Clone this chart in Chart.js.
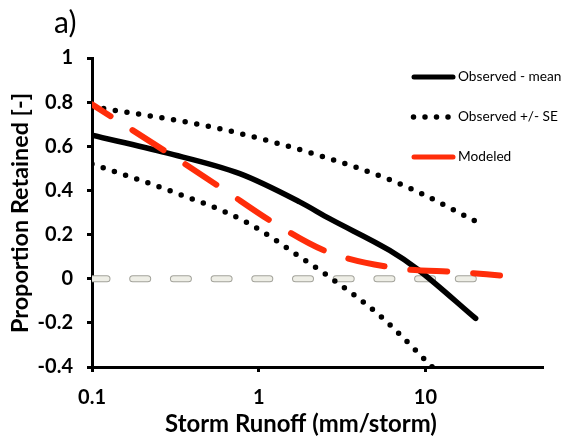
<!DOCTYPE html>
<html><head><meta charset="utf-8">
<script src="https://cdn.jsdelivr.net/npm/chart.js@4.4.1/dist/chart.umd.min.js"></script>
<style>html,body{margin:0;padding:0;background:#fff;}#wrap{width:566px;height:440px;position:relative;}</style>
</head><body><div id="wrap"><canvas id="c" width="566" height="440"></canvas></div>
<script>
// ---- data ----
const meanX  = [0.1, 0.28, 0.77, 1.76, 2.66, 6.1, 9.0, 20];
const meanY  = [0.65, 0.57, 0.476, 0.348, 0.272, 0.128, 0.042, -0.18];
const upperX = [0.1, 0.58, 2.41, 6.1, 9.5, 20];
const upperY = [0.78, 0.68, 0.554, 0.449, 0.385, 0.26];
const lowerX = [0.1, 0.29, 0.84, 1.9, 2.52, 5.3, 11];
const lowerY = [0.52, 0.40, 0.257, 0.083, 0.02, -0.166, -0.40];
const modelX = [0.1, 0.28, 0.6, 1.25, 2.6, 6.7, 16, 28];
const modelY = [0.79, 0.574, 0.41, 0.25, 0.121, 0.048, 0.03, 0.015];
const zeroX  = [0.1, 20];
const zeroY  = [0, 0];
const xTicks = [0.1, 1, 10];
const xTickLabels = ['0.1', '1', '10'];
const yTicks = [-0.4, -0.2, 0, 0.2, 0.4, 0.6, 0.8, 1];
const legendLabels = ['Observed - mean', 'Observed +/- SE', 'Modeled'];
const panelLabel = 'a)';
const xTitle = 'Storm Runoff (mm/storm)';
const yTitle = 'Proportion Retained [-]';

const pts = (xs, ys) => xs.map((x, i) => ({x: x, y: ys[i]}));
const RED = '#FF2D0A';
const FONT = 'Lato, "Open Sans", sans-serif';

const mctx = document.createElement('canvas').getContext('2d');
function fitSize(text, weight, width) {
  mctx.font = weight + ' 100px ' + FONT;
  return 100 * width / mctx.measureText(text).width;
}
const xTitleSize = fitSize(xTitle, 'bold', 272);
const yTitleSize = fitSize(yTitle, 'bold', 240);
const legendSize = fitSize(legendLabels[1], 'normal', 100);

const customText = {
  id: 'customText',
  afterDraw(chart) {
    const ctx = chart.ctx;
    ctx.save();
    ctx.fillStyle = '#000';
    ctx.font = '30px ' + FONT;
    ctx.textAlign = 'left'; ctx.textBaseline = 'alphabetic';
    ctx.fillText(panelLabel, 54, 33);
    ctx.font = 'bold ' + xTitleSize + 'px ' + FONT;
    ctx.textAlign = 'center'; ctx.textBaseline = 'middle';
    ctx.fillText(xTitle, 301, 424);
    ctx.save();
    ctx.translate(20, 213);
    ctx.rotate(-Math.PI / 2);
    ctx.font = 'bold ' + yTitleSize + 'px ' + FONT;
    ctx.fillText(yTitle, 0, 0);
    ctx.restore();
    // legend
    const ly = [77, 117, 157];
    const x0 = 412, x1 = 455;
    ctx.lineCap = 'round';
    ctx.strokeStyle = '#000'; ctx.lineWidth = 5;
    ctx.beginPath(); ctx.moveTo(x0 + 2, ly[0]); ctx.lineTo(x1 - 2, ly[0]); ctx.stroke();
    ctx.setLineDash([0, 11.5]);
    ctx.lineWidth = 5.5;
    ctx.beginPath(); ctx.moveTo(x0 + 1.5, ly[1]); ctx.lineTo(x1, ly[1]); ctx.stroke();
    ctx.setLineDash([]);
    ctx.strokeStyle = RED; ctx.lineWidth = 5;
    ctx.beginPath(); ctx.moveTo(x0 + 2, ly[2]); ctx.lineTo(x1 - 2, ly[2]); ctx.stroke();
    ctx.font = legendSize + 'px ' + FONT;
    ctx.textAlign = 'left'; ctx.textBaseline = 'middle';
    ctx.fillStyle = '#000';
    legendLabels.forEach((t, i) => ctx.fillText(t, 458, ly[i]));
    ctx.restore();
  }
};

new Chart(document.getElementById('c'), {
  type: 'line',
  data: {
    datasets: [
      { label: 'zero-outline', data: pts(zeroX, zeroY), borderColor: '#A3A39B', borderWidth: 7,
        borderDash: [15, 25.7], borderCapStyle: 'round', pointRadius: 0, order: 6 },
      { label: 'zero', data: pts(zeroX, zeroY), borderColor: '#EEEEE6', borderWidth: 5,
        borderDash: [15, 25.7], borderCapStyle: 'round', pointRadius: 0, order: 5 },
      { label: legendLabels[1], data: pts(upperX, upperY), borderColor: '#000', borderWidth: 5.5,
        borderDash: [0, 11.8], borderCapStyle: 'round', pointRadius: 0, cubicInterpolationMode: 'monotone', order: 4 },
      { label: legendLabels[1] + ' low', data: pts(lowerX, lowerY), borderColor: '#000', borderWidth: 5.5,
        borderDash: [0, 11.8], borderCapStyle: 'round', pointRadius: 0, cubicInterpolationMode: 'monotone', order: 3 },
      { label: legendLabels[0], data: pts(meanX, meanY), borderColor: '#000', borderWidth: 5.5,
        borderCapStyle: 'round', borderJoinStyle: 'round', pointRadius: 0, cubicInterpolationMode: 'monotone', order: 2 },
      { label: legendLabels[2], data: pts(modelX, modelY), borderColor: RED, borderWidth: 6,
        borderDash: [37, 26], borderDashOffset: 15, borderCapStyle: 'round', pointRadius: 0,
        cubicInterpolationMode: 'monotone', order: 1 }
    ]
  },
  options: {
    responsive: false,
    animation: false,
    events: [],
    layout: { padding: { left: 0, top: 58, right: 24, bottom: 0 } },
    plugins: { legend: { display: false }, tooltip: { enabled: false } },
    scales: {
      x: {
        type: 'logarithmic', min: 0.1, max: 50,
        afterFit(s) { s.height = 73; },
        afterBuildTicks(s) { s.ticks = xTicks.map(v => ({value: v})); },
        border: { display: true, color: '#000', width: 3 },
        grid: { drawOnChartArea: false, drawTicks: true, tickLength: 5, color: '#000', lineWidth: 3 },
        ticks: { color: '#000', font: { family: FONT, size: 20, weight: 'bold' }, padding: 14, maxRotation: 0,
          callback: (v) => { const i = xTicks.indexOf(v); return i >= 0 ? xTickLabels[i] : ''; } }
      },
      y: {
        min: -0.4, max: 1,
        afterFit(s) { s.width = 92; },
        afterBuildTicks(s) { s.ticks = yTicks.map(v => ({value: v})); },
        border: { display: true, color: '#000', width: 3 },
        grid: { drawOnChartArea: false, drawTicks: true, tickLength: 5, color: '#000', lineWidth: 3 },
        ticks: { color: '#000', font: { family: FONT, size: 20, weight: 'bold' }, padding: 14,
          callback: (v) => String(Math.round(v * 10) / 10) }
      }
    }
  },
  plugins: [customText]
});
</script></body></html>
